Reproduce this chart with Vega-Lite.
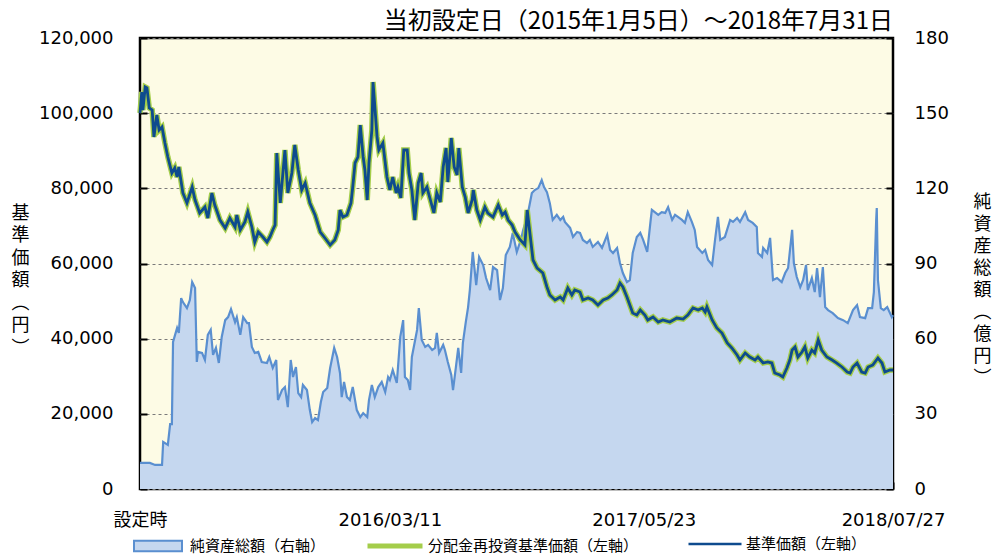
{
"$schema": "https://vega.github.io/schema/vega-lite/v6.json",
"width": 753, "height": 451,
"autosize": "none",
"padding": {"left": 140, "top": 38, "right": 108, "bottom": 67},
"background": "white",
"config": {"view": {"fill": "#FDFBE5", "stroke": "#000000", "strokeWidth": 2.5}, "font": "DejaVu Sans"},
"title": {"text": "当初設定日（2015年1月5日）～2018年7月31日", "anchor": "end", "frame": "group", "orient": "top", "offset": -5, "fontSize": 24, "font": "Noto Sans CJK JP", "fontWeight": "normal", "color": "#000000"},
"datasets": {
"nav": [
{"d":"2015-01-05","v":100040},{"d":"2015-01-08","v":105630},{"d":"2015-01-10","v":100840},{"d":"2015-01-14","v":106960},{"d":"2015-01-17","v":106700},{"d":"2015-01-21","v":101370},{"d":"2015-01-26","v":100840},{"d":"2015-01-29","v":93660},{"d":"2015-02-03","v":99510},{"d":"2015-02-07","v":95520},{"d":"2015-02-12","v":96320},{"d":"2015-02-17","v":92060},{"d":"2015-02-22","v":88340},{"d":"2015-03-01","v":84080},{"d":"2015-03-06","v":85410},{"d":"2015-03-10","v":83010},{"d":"2015-03-13","v":85670},{"d":"2015-03-20","v":78760},{"d":"2015-03-27","v":76100},{"d":"2015-04-05","v":80350},{"d":"2015-04-10","v":76890},{"d":"2015-04-18","v":73440},{"d":"2015-04-27","v":75030},{"d":"2015-05-02","v":72100},{"d":"2015-05-09","v":78760},{"d":"2015-05-14","v":75560},{"d":"2015-05-23","v":71570},{"d":"2015-06-01","v":69440},{"d":"2015-06-09","v":72100},{"d":"2015-06-18","v":69710},{"d":"2015-06-21","v":72900},{"d":"2015-06-27","v":68910},{"d":"2015-07-05","v":71040},{"d":"2015-07-10","v":73700},{"d":"2015-07-17","v":69710},{"d":"2015-07-22","v":65720},{"d":"2015-07-28","v":68380},{"d":"2015-08-05","v":67050},{"d":"2015-08-12","v":65720},{"d":"2015-08-17","v":67050},{"d":"2015-08-22","v":68910},{"d":"2015-08-26","v":70240},{"d":"2015-08-29","v":89400},{"d":"2015-09-04","v":76100},{"d":"2015-09-09","v":84880},{"d":"2015-09-12","v":90200},{"d":"2015-09-17","v":78760},{"d":"2015-09-24","v":84080},{"d":"2015-09-29","v":91530},{"d":"2015-10-05","v":84880},{"d":"2015-10-11","v":79560},{"d":"2015-10-17","v":81420},{"d":"2015-10-25","v":76100},{"d":"2015-11-03","v":72900},{"d":"2015-11-12","v":68380},{"d":"2015-11-20","v":66780},{"d":"2015-11-29","v":64920},{"d":"2015-12-07","v":66250},{"d":"2015-12-13","v":68910},{"d":"2015-12-16","v":74230},{"d":"2015-12-21","v":72370},{"d":"2015-12-28","v":72900},{"d":"2016-01-04","v":76100},{"d":"2016-01-07","v":80350},{"d":"2016-01-11","v":86740},{"d":"2016-01-16","v":88340},{"d":"2016-01-20","v":96850},{"d":"2016-01-25","v":88340},{"d":"2016-01-28","v":84880},{"d":"2016-02-01","v":76890},{"d":"2016-02-04","v":86740},{"d":"2016-02-09","v":95520},{"d":"2016-02-11","v":108290},{"d":"2016-02-18","v":93660},{"d":"2016-02-21","v":90200},{"d":"2016-02-28","v":92060},{"d":"2016-03-06","v":83010},{"d":"2016-03-11","v":79560},{"d":"2016-03-16","v":83010},{"d":"2016-03-22","v":78760},{"d":"2016-03-25","v":80350},{"d":"2016-03-30","v":77430},{"d":"2016-04-04","v":90200},{"d":"2016-04-10","v":90200},{"d":"2016-04-13","v":84080},{"d":"2016-04-18","v":79560},{"d":"2016-04-23","v":71570},{"d":"2016-04-29","v":81420},{"d":"2016-05-04","v":84080},{"d":"2016-05-07","v":78760},{"d":"2016-05-14","v":80350},{"d":"2016-05-19","v":77430},{"d":"2016-05-26","v":73440},{"d":"2016-05-31","v":78760},{"d":"2016-06-06","v":76360},{"d":"2016-06-11","v":85670},{"d":"2016-06-16","v":90730},{"d":"2016-06-19","v":81680},{"d":"2016-06-25","v":93390},{"d":"2016-06-30","v":85670},{"d":"2016-07-05","v":83540},{"d":"2016-07-08","v":90730},{"d":"2016-07-14","v":80350},{"d":"2016-07-19","v":77690},{"d":"2016-07-24","v":73440},{"d":"2016-07-31","v":76890},{"d":"2016-08-02","v":79560},{"d":"2016-08-08","v":74230},{"d":"2016-08-14","v":71570},{"d":"2016-08-22","v":75030},{"d":"2016-08-27","v":73440},{"d":"2016-09-05","v":72370},{"d":"2016-09-14","v":75560},{"d":"2016-09-21","v":72900},{"d":"2016-09-26","v":73700},{"d":"2016-10-01","v":71570},{"d":"2016-10-08","v":70240},{"d":"2016-10-13","v":68380},{"d":"2016-10-22","v":66250},{"d":"2016-10-30","v":64920},{"d":"2016-11-03","v":74230},{"d":"2016-11-11","v":63590},{"d":"2016-11-13","v":60930},{"d":"2016-11-20","v":58800},{"d":"2016-11-30","v":57470},{"d":"2016-12-07","v":53750},{"d":"2016-12-12","v":51620},{"d":"2016-12-21","v":50290},{"d":"2016-12-30","v":51090},{"d":"2017-01-04","v":50290},{"d":"2017-01-12","v":53480},{"d":"2017-01-19","v":51620},{"d":"2017-01-24","v":52950},{"d":"2017-02-02","v":52420},{"d":"2017-02-07","v":50290},{"d":"2017-02-16","v":50820},{"d":"2017-02-24","v":50290},{"d":"2017-03-05","v":48960},{"d":"2017-03-14","v":50290},{"d":"2017-03-22","v":50820},{"d":"2017-03-29","v":51620},{"d":"2017-04-07","v":52950},{"d":"2017-04-12","v":54810},{"d":"2017-04-17","v":53750},{"d":"2017-04-24","v":51090},{"d":"2017-04-29","v":48960},{"d":"2017-05-04","v":46830},{"d":"2017-05-11","v":46300},{"d":"2017-05-17","v":47630},{"d":"2017-05-25","v":46300},{"d":"2017-05-30","v":44970},{"d":"2017-06-08","v":45760},{"d":"2017-06-17","v":44430},{"d":"2017-06-25","v":44970},{"d":"2017-07-07","v":44430},{"d":"2017-07-19","v":45500},{"d":"2017-07-30","v":45230},{"d":"2017-08-07","v":46300},{"d":"2017-08-16","v":48160},{"d":"2017-08-25","v":47630},{"d":"2017-09-01","v":48160},{"d":"2017-09-06","v":47090},{"d":"2017-09-09","v":48430},{"d":"2017-09-18","v":44970},{"d":"2017-09-26","v":42840},{"d":"2017-10-05","v":41510},{"d":"2017-10-14","v":38850},{"d":"2017-10-22","v":37520},{"d":"2017-10-31","v":35650},{"d":"2017-11-05","v":34320},{"d":"2017-11-14","v":36190},{"d":"2017-11-22","v":35120},{"d":"2017-12-01","v":34320},{"d":"2017-12-06","v":35120},{"d":"2017-12-15","v":33520},{"d":"2017-12-23","v":33790},{"d":"2017-12-30","v":33520},{"d":"2018-01-04","v":30860},{"d":"2018-01-13","v":30330},{"d":"2018-01-18","v":29800},{"d":"2018-01-25","v":32190},{"d":"2018-01-30","v":34320},{"d":"2018-02-03","v":36980},{"d":"2018-02-08","v":37780},{"d":"2018-02-13","v":35120},{"d":"2018-02-20","v":36450},{"d":"2018-02-25","v":37780},{"d":"2018-03-02","v":34850},{"d":"2018-03-09","v":36980},{"d":"2018-03-14","v":36190},{"d":"2018-03-20","v":39640},{"d":"2018-03-26","v":36980},{"d":"2018-04-04","v":35120},{"d":"2018-04-13","v":34320},{"d":"2018-04-21","v":33520},{"d":"2018-04-30","v":32460},{"d":"2018-05-09","v":31130},{"d":"2018-05-14","v":30860},{"d":"2018-05-19","v":32460},{"d":"2018-05-26","v":33520},{"d":"2018-06-03","v":31130},{"d":"2018-06-09","v":30860},{"d":"2018-06-14","v":32460},{"d":"2018-06-22","v":32990},{"d":"2018-07-01","v":34850},{"d":"2018-07-08","v":33520},{"d":"2018-07-13","v":31130},{"d":"2018-07-22","v":31660},{"d":"2018-07-27","v":31660}
],
"aum": [
{"d":"2015-01-05","a":10.4},{"d":"2015-01-22","a":10.4},{"d":"2015-01-31","a":9.6},{"d":"2015-02-12","a":9.6},{"d":"2015-02-14","a":18.8},{"d":"2015-02-22","a":17.6},{"d":"2015-02-26","a":25.9},{"d":"2015-03-01","a":25.9},{"d":"2015-03-03","a":58.7},{"d":"2015-03-10","a":64.3},{"d":"2015-03-13","a":62.3},{"d":"2015-03-17","a":76.2},{"d":"2015-03-20","a":74.6},{"d":"2015-03-27","a":72.2},{"d":"2015-04-01","a":75.4},{"d":"2015-04-05","a":82.6},{"d":"2015-04-10","a":80.2},{"d":"2015-04-13","a":50.7},{"d":"2015-04-15","a":54.7},{"d":"2015-04-22","a":54.3},{"d":"2015-04-27","a":51.5},{"d":"2015-05-02","a":61.5},{"d":"2015-05-07","a":63.5},{"d":"2015-05-11","a":53.5},{"d":"2015-05-16","a":56.3},{"d":"2015-05-21","a":50.3},{"d":"2015-05-26","a":60.7},{"d":"2015-06-01","a":67.4},{"d":"2015-06-06","a":68.6},{"d":"2015-06-11","a":71.8},{"d":"2015-06-18","a":66.6},{"d":"2015-06-21","a":68.6},{"d":"2015-06-27","a":61.5},{"d":"2015-07-02","a":68.6},{"d":"2015-07-09","a":66.2},{"d":"2015-07-12","a":66.2},{"d":"2015-07-17","a":56.7},{"d":"2015-07-22","a":54.3},{"d":"2015-07-28","a":54.7},{"d":"2015-08-03","a":50.7},{"d":"2015-08-12","a":50.3},{"d":"2015-08-16","a":52.7},{"d":"2015-08-22","a":48.3},{"d":"2015-08-28","a":51.5},{"d":"2015-08-31","a":35.5},{"d":"2015-09-07","a":39.5},{"d":"2015-09-12","a":40.7},{"d":"2015-09-17","a":32.7},{"d":"2015-09-22","a":51.5},{"d":"2015-09-26","a":44.7},{"d":"2015-10-01","a":48.7},{"d":"2015-10-05","a":38.3},{"d":"2015-10-10","a":36.7},{"d":"2015-10-13","a":41.5},{"d":"2015-10-20","a":39.5},{"d":"2015-10-25","a":31.5},{"d":"2015-10-29","a":26.7},{"d":"2015-11-03","a":28.3},{"d":"2015-11-08","a":27.5},{"d":"2015-11-13","a":34.7},{"d":"2015-11-17","a":38.7},{"d":"2015-11-24","a":40.3},{"d":"2015-11-29","a":48.3},{"d":"2015-12-06","a":56.3},{"d":"2015-12-11","a":52.7},{"d":"2015-12-16","a":46.3},{"d":"2015-12-19","a":36.7},{"d":"2015-12-23","a":42.7},{"d":"2015-12-28","a":36.7},{"d":"2016-01-02","a":35.5},{"d":"2016-01-07","a":40.7},{"d":"2016-01-14","a":31.5},{"d":"2016-01-20","a":28.7},{"d":"2016-01-25","a":30.3},{"d":"2016-02-01","a":28.7},{"d":"2016-02-04","a":35.5},{"d":"2016-02-09","a":41.5},{"d":"2016-02-14","a":36.7},{"d":"2016-02-20","a":40.7},{"d":"2016-02-26","a":42.7},{"d":"2016-03-03","a":38.7},{"d":"2016-03-08","a":44.7},{"d":"2016-03-11","a":43.5},{"d":"2016-03-16","a":47.5},{"d":"2016-03-23","a":42.3},{"d":"2016-03-29","a":60.7},{"d":"2016-04-03","a":67.4},{"d":"2016-04-06","a":44.7},{"d":"2016-04-11","a":43.5},{"d":"2016-04-15","a":39.5},{"d":"2016-04-18","a":52.7},{"d":"2016-04-27","a":63.5},{"d":"2016-04-30","a":72.2},{"d":"2016-05-05","a":59.5},{"d":"2016-05-11","a":56.7},{"d":"2016-05-16","a":57.5},{"d":"2016-05-23","a":55.5},{"d":"2016-05-28","a":56.3},{"d":"2016-05-31","a":62.3},{"d":"2016-06-04","a":54.3},{"d":"2016-06-11","a":57.5},{"d":"2016-06-14","a":55.5},{"d":"2016-06-19","a":50.7},{"d":"2016-06-25","a":45.5},{"d":"2016-06-28","a":39.5},{"d":"2016-07-03","a":48.7},{"d":"2016-07-07","a":56.3},{"d":"2016-07-12","a":46.3},{"d":"2016-07-15","a":58.3},{"d":"2016-07-20","a":66.6},{"d":"2016-07-24","a":72.6},{"d":"2016-07-27","a":79.4},{"d":"2016-08-01","a":94.6},{"d":"2016-08-07","a":81.4},{"d":"2016-08-12","a":92.6},{"d":"2016-08-19","a":89.4},{"d":"2016-08-24","a":84.2},{"d":"2016-08-31","a":79.4},{"d":"2016-09-05","a":88.6},{"d":"2016-09-12","a":87.4},{"d":"2016-09-17","a":75.4},{"d":"2016-09-22","a":80.2},{"d":"2016-09-27","a":93.4},{"d":"2016-10-04","a":96.6},{"d":"2016-10-09","a":102.2},{"d":"2016-10-16","a":94.6},{"d":"2016-10-23","a":99.4},{"d":"2016-10-27","a":103.4},{"d":"2016-11-03","a":108.6},{"d":"2016-11-11","a":118.1},{"d":"2016-11-16","a":119.3},{"d":"2016-11-22","a":120.1},{"d":"2016-11-28","a":123.3},{"d":"2016-12-02","a":120.5},{"d":"2016-12-07","a":118.5},{"d":"2016-12-12","a":114.1},{"d":"2016-12-17","a":107.4},{"d":"2016-12-24","a":109.4},{"d":"2016-12-30","a":107.4},{"d":"2017-01-04","a":108.6},{"d":"2017-01-07","a":106.6},{"d":"2017-01-16","a":104.2},{"d":"2017-01-21","a":100.6},{"d":"2017-01-28","a":102.6},{"d":"2017-02-02","a":102.2},{"d":"2017-02-07","a":99.4},{"d":"2017-02-14","a":98.2},{"d":"2017-02-19","a":99.4},{"d":"2017-02-24","a":96.6},{"d":"2017-03-05","a":98.6},{"d":"2017-03-12","a":96.2},{"d":"2017-03-21","a":101.4},{"d":"2017-03-26","a":95.4},{"d":"2017-03-31","a":94.2},{"d":"2017-04-07","a":96.2},{"d":"2017-04-12","a":90.2},{"d":"2017-04-17","a":86.2},{"d":"2017-04-24","a":82.6},{"d":"2017-04-29","a":83.4},{"d":"2017-05-04","a":94.2},{"d":"2017-05-11","a":100.6},{"d":"2017-05-17","a":102.2},{"d":"2017-05-22","a":99.4},{"d":"2017-05-29","a":94.6},{"d":"2017-06-04","a":107.4},{"d":"2017-06-06","a":111.4},{"d":"2017-06-11","a":110.5},{"d":"2017-06-17","a":109.4},{"d":"2017-06-23","a":110.5},{"d":"2017-06-29","a":110.2},{"d":"2017-07-04","a":112.5},{"d":"2017-07-11","a":107.4},{"d":"2017-07-16","a":109.4},{"d":"2017-07-21","a":108.6},{"d":"2017-07-28","a":107.4},{"d":"2017-08-02","a":106.2},{"d":"2017-08-07","a":110.5},{"d":"2017-08-14","a":106.6},{"d":"2017-08-19","a":103.4},{"d":"2017-08-23","a":96.6},{"d":"2017-09-01","a":94.2},{"d":"2017-09-06","a":95.4},{"d":"2017-09-11","a":91.4},{"d":"2017-09-18","a":89.4},{"d":"2017-09-23","a":99.4},{"d":"2017-09-28","a":108.6},{"d":"2017-10-02","a":99.4},{"d":"2017-10-10","a":100.6},{"d":"2017-10-19","a":107.4},{"d":"2017-10-24","a":106.6},{"d":"2017-10-31","a":108.2},{"d":"2017-11-05","a":106.6},{"d":"2017-11-14","a":110.5},{"d":"2017-11-19","a":107.4},{"d":"2017-11-27","a":106.2},{"d":"2017-12-04","a":104.6},{"d":"2017-12-06","a":94.2},{"d":"2017-12-13","a":92.6},{"d":"2017-12-15","a":96.2},{"d":"2017-12-22","a":94.2},{"d":"2017-12-27","a":100.2},{"d":"2018-01-01","a":83.4},{"d":"2018-01-08","a":84.2},{"d":"2018-01-16","a":82.6},{"d":"2018-01-22","a":86.2},{"d":"2018-01-27","a":88.2},{"d":"2018-02-03","a":103.4},{"d":"2018-02-06","a":90.2},{"d":"2018-02-11","a":84.6},{"d":"2018-02-17","a":80.6},{"d":"2018-02-22","a":83.4},{"d":"2018-02-27","a":89.4},{"d":"2018-03-02","a":79.4},{"d":"2018-03-09","a":84.2},{"d":"2018-03-14","a":78.6},{"d":"2018-03-18","a":88.2},{"d":"2018-03-23","a":76.6},{"d":"2018-03-28","a":88.6},{"d":"2018-04-01","a":72.6},{"d":"2018-04-06","a":71.4},{"d":"2018-04-14","a":70.2},{"d":"2018-04-23","a":68.2},{"d":"2018-05-02","a":67.4},{"d":"2018-05-10","a":66.2},{"d":"2018-05-19","a":71.4},{"d":"2018-05-26","a":73.4},{"d":"2018-05-31","a":68.6},{"d":"2018-06-09","a":68.2},{"d":"2018-06-14","a":72.2},{"d":"2018-06-21","a":72.2},{"d":"2018-06-24","a":78.6},{"d":"2018-06-28","a":107.4},{"d":"2018-06-29","a":112.1},{"d":"2018-07-01","a":83.4},{"d":"2018-07-06","a":72.2},{"d":"2018-07-11","a":71.4},{"d":"2018-07-17","a":72.6},{"d":"2018-07-25","a":68.6},{"d":"2018-07-27","a":69.4}
]
},
"encoding": {
"x": {"field": "d", "type": "temporal",
 "scale": {"type": "utc", "domain": [{"year": 2015, "month": 1, "date": 5, "utc": true}, {"year": 2018, "month": 7, "date": 27, "utc": true}]},
 "axis": {"title": null, "values": [{"year": 2015, "month": 1, "date": 5, "utc": true}, {"year": 2016, "month": 3, "date": 11, "utc": true}, {"year": 2017, "month": 5, "date": 23, "utc": true}, {"year": 2018, "month": 7, "date": 27, "utc": true}],
  "labelExpr": "datum.value < 1430000000000 ? '設定時' : utcFormat(datum.value, '%Y/%m/%d')",
  "tickSize": -7, "tickWidth": 2, "tickColor": "#000000", "domain": false, "grid": false,
  "labelPadding": 29, "labelFontSize": 18, "labelFont": "DejaVu Sans, Noto Sans CJK JP", "labelColor": "#000000",
  "labelFlush": false, "labelOverlap": false, "labelBound": false}}
},
"layer": [
 {"data": {"name": "aum"},
  "encoding": {"y": {"field": "a", "type": "quantitative", "scale": {"domain": [0, 180], "nice": false},
   "axis": {"orient": "right", "values": [0, 30, 60, 90, 120, 150, 180], "grid": false, "domain": false,
    "tickSize": -7, "tickWidth": 2, "tickColor": "#000000", "labelPadding": 28, "labelFontSize": 18, "labelColor": "#000000", "labelFont": "DejaVu Sans",
    "title": ["純", "資", "産", "総", "額", "︵", "億", "円", "︶"], "titleAngle": 0, "titleX": 89, "titleY": 155, "titleAlign": "center", "titleBaseline": "top",
    "titleFontSize": 18, "titleFont": "Noto Sans CJK JP", "titleFontWeight": "normal", "titleLineHeight": 22, "titleColor": "#000000"}}},
  "layer": [
   {"mark": {"type": "area", "opacity": 1},
    "encoding": {"color": {"datum": "純資産総額（右軸）", "scale": {"range": ["#C5D7EF"]},
     "legend": {"title": null, "orient": "none", "legendX": -7, "legendY": 483, "padding": 0,
      "symbolType": "M-1,-0.22H1V0.22H-1Z", "symbolSize": 2304, "symbolStrokeColor": "#5A8FD0", "symbolStrokeWidth": 2, "symbolOpacity": 1,
      "labelFont": "Noto Sans CJK JP", "labelFontSize": 15, "labelOffset": 7, "labelLimit": 400, "labelColor": "#000000"}}}},
   {"mark": {"type": "line", "color": "#5A8FD0", "strokeWidth": 2.2}, "encoding": {}}
  ]},
 {"data": {"name": "nav"},
  "encoding": {"y": {"field": "v", "type": "quantitative", "scale": {"domain": [0, 120000], "nice": false},
   "axis": {"orient": "left", "values": [0, 20000, 40000, 60000, 80000, 100000, 120000], "format": ",d",
    "grid": true, "gridDash": [3, 3], "gridColor": "#7A7A7A", "gridWidth": 1, "domain": false,
    "tickSize": -7, "tickWidth": 2, "tickColor": "#000000", "labelPadding": 34, "labelFontSize": 18, "labelColor": "#000000", "labelFont": "DejaVu Sans",
    "title": ["基", "準", "価", "額", "︵", "円", "︶"], "titleAngle": 0, "titleX": -120, "titleY": 166, "titleAlign": "center", "titleBaseline": "top",
    "titleFontSize": 18, "titleFont": "Noto Sans CJK JP", "titleFontWeight": "normal", "titleLineHeight": 22.5, "titleColor": "#000000"}}},
  "layer": [
   {"mark": {"type": "line", "strokeWidth": 5.5},
    "encoding": {"color": {"datum": "分配金再投資基準価額（左軸）", "scale": {"range": ["#A4CD4A"]},
     "legend": {"title": null, "orient": "none", "legendX": 225, "legendY": 478, "padding": 0,
      "symbolType": "stroke", "symbolSize": 3025, "symbolStrokeWidth": 5,
      "labelFont": "Noto Sans CJK JP", "labelFontSize": 15, "labelOffset": 3, "labelLimit": 400, "labelColor": "#000000"}}}},
   {"mark": {"type": "line", "strokeWidth": 2.8},
    "encoding": {"color": {"datum": "基準価額（左軸）", "scale": {"range": ["#0E4B8E"]},
     "legend": {"title": null, "orient": "none", "legendX": 547, "legendY": 478, "padding": 0,
      "symbolType": "stroke", "symbolSize": 2809, "symbolStrokeWidth": 2.5,
      "labelFont": "Noto Sans CJK JP", "labelFontSize": 15, "labelOffset": 3, "labelLimit": 400, "labelColor": "#000000"}}}}
  ],
  "resolve": {"scale": {"color": "independent"}}}
],
"resolve": {"scale": {"y": "independent", "color": "independent"}}
}
